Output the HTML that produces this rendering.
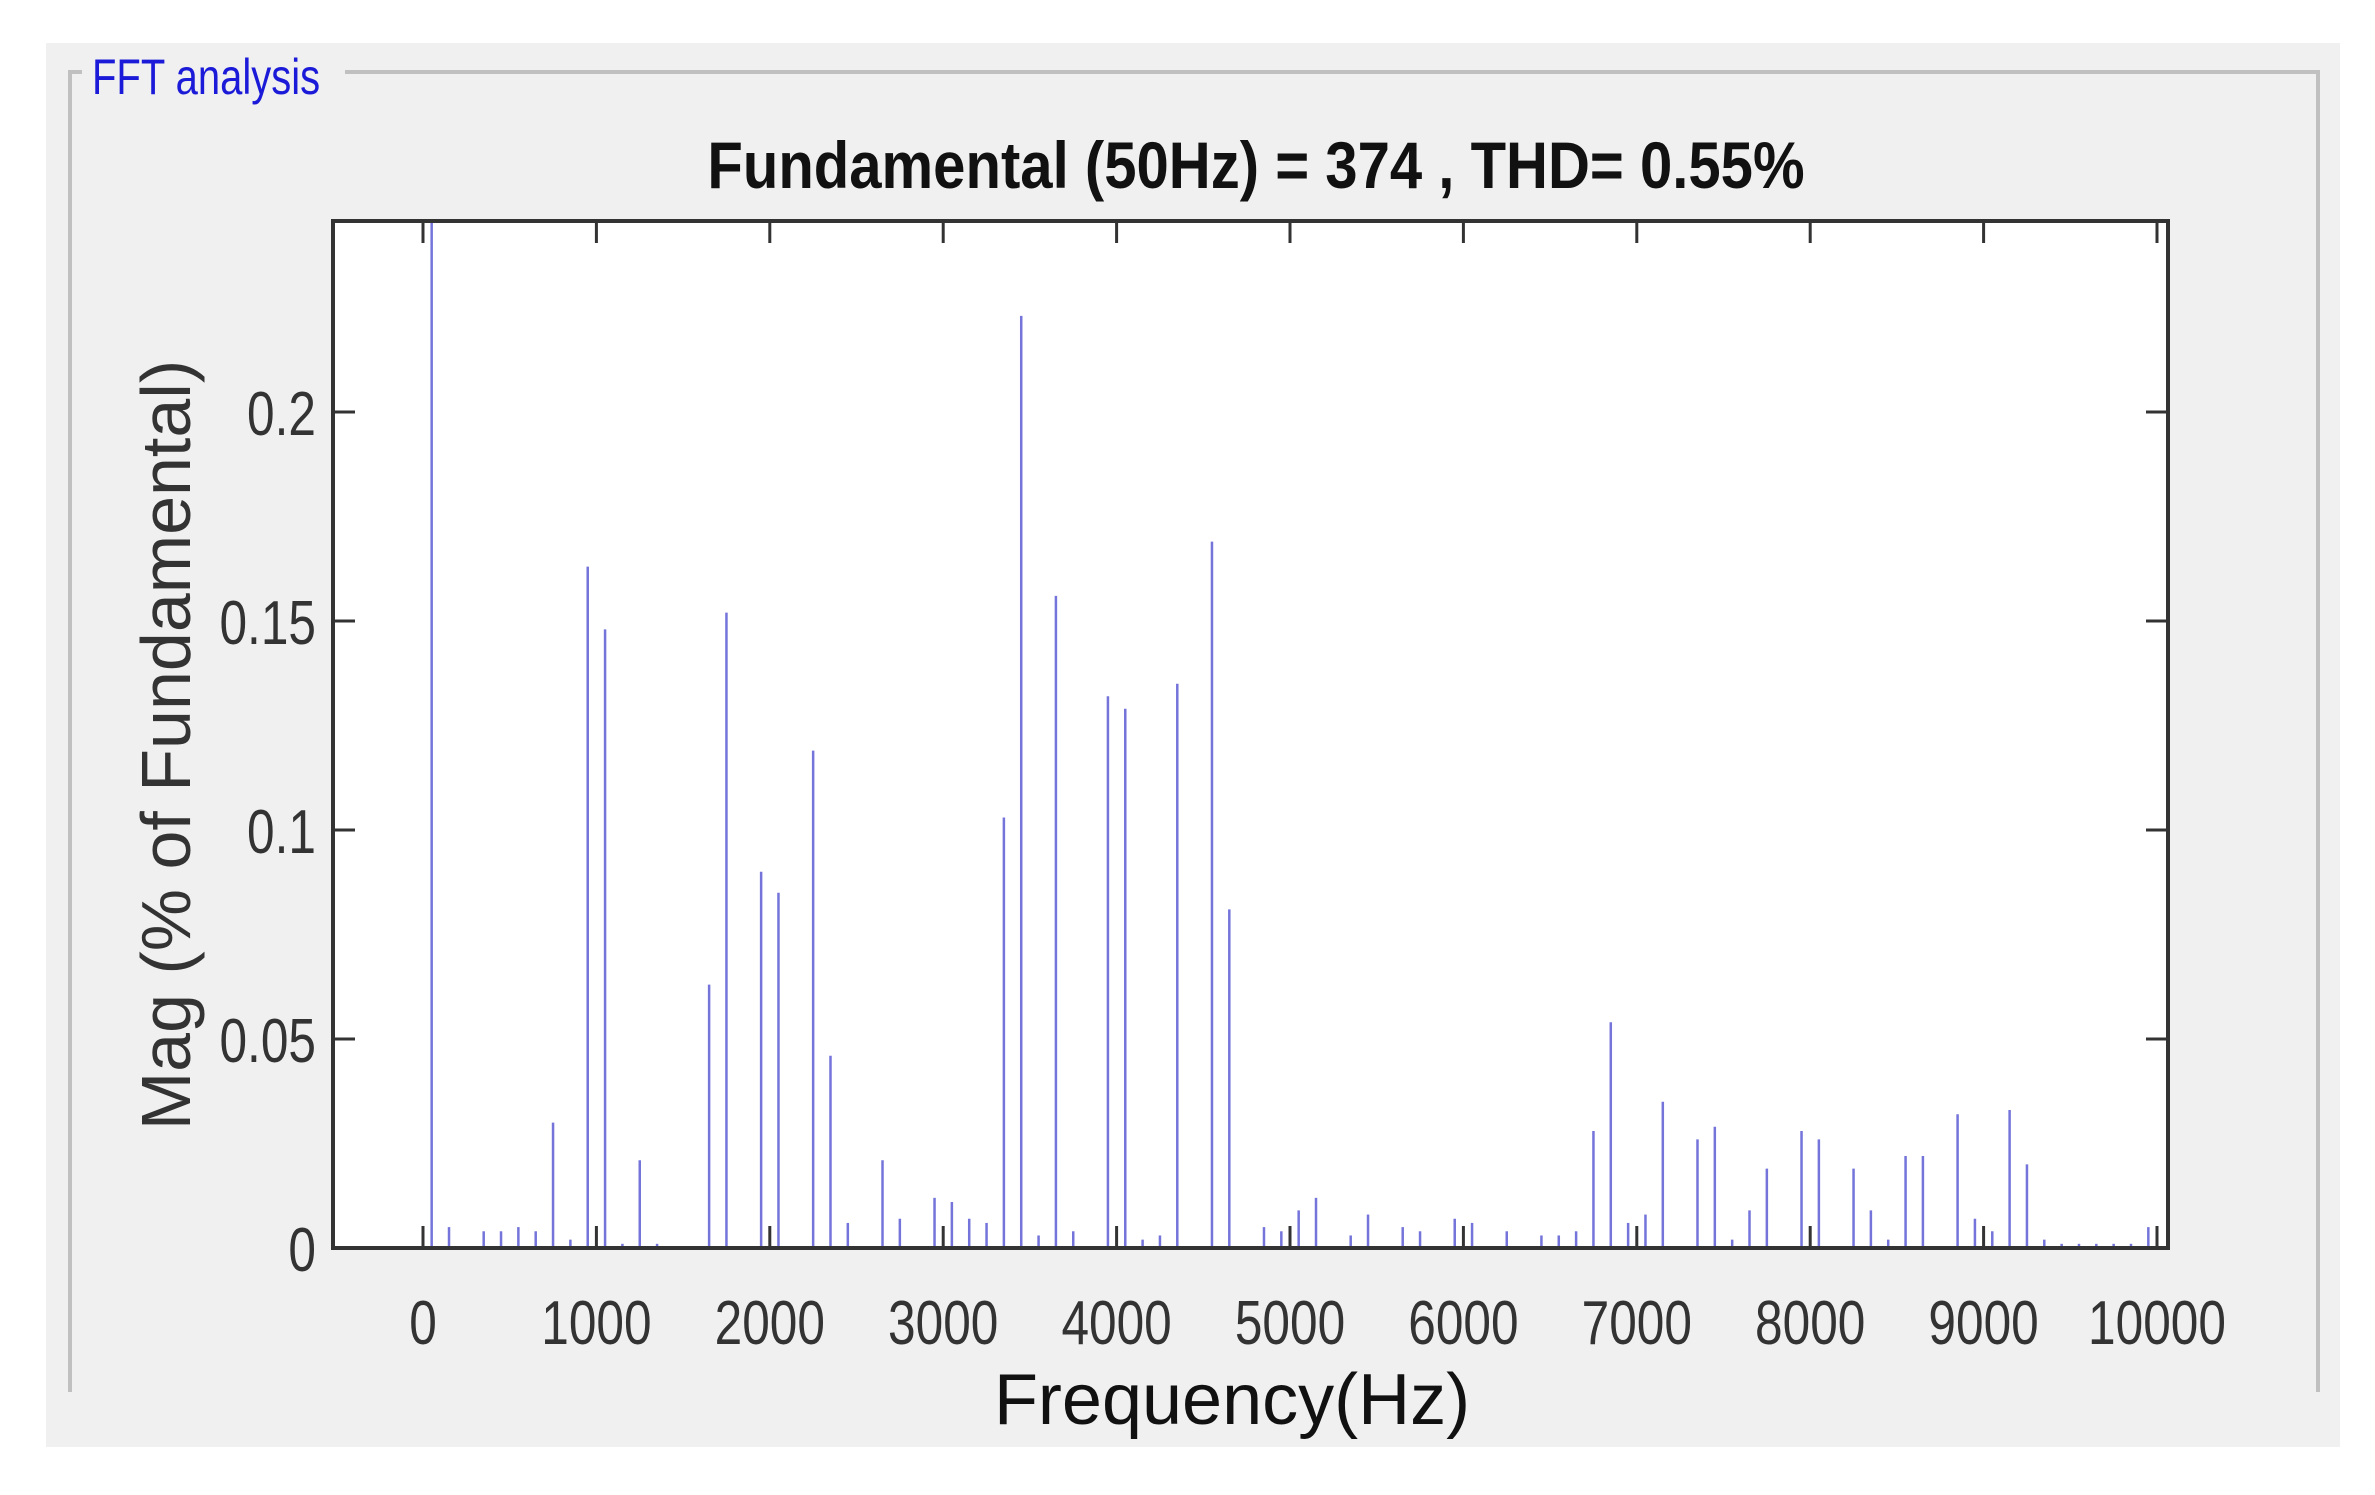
<!DOCTYPE html>
<html><head><meta charset="utf-8"><style>
html,body{margin:0;padding:0;background:#fff;width:2375px;height:1495px;overflow:hidden}
svg{display:block}
text{font-family:"Liberation Sans",sans-serif}
</style></head><body>
<svg id="chart" width="2375" height="1495" viewBox="0 0 2375 1495" xmlns="http://www.w3.org/2000/svg">
<rect x="46" y="43" width="2294" height="1404" fill="#f0f0f0"/>
<path d="M70 1392 V72 H82 M345 72 H2318 V1392" fill="none" stroke="#c0c0c0" stroke-width="4"/>
<text x="92" y="94" font-size="50" fill="#1a1ad8" transform="translate(92 0) scale(0.8 1) translate(-92 0)">FFT analysis</text>
<text x="1256" y="188" font-size="66" font-weight="bold" text-anchor="middle" fill="#111" transform="translate(1256 0) scale(0.88 1) translate(-1256 0)">Fundamental (50Hz) = 374 , THD= 0.55%</text>
<rect x="333" y="221" width="1835" height="1027" fill="#fff"/>
<g id="stems"></g>
<g id="axes"></g>
<rect x="333" y="221" width="1835" height="1027" fill="none" stroke="#333" stroke-width="4"/>
<text x="1232" y="1424" font-size="72" text-anchor="middle" fill="#111">Frequency(Hz)</text>
<text x="0" y="0" font-size="70" text-anchor="middle" fill="#333" transform="translate(190 745) rotate(-90)">Mag (% of Fundamental)</text>
</svg>
<script>
const freqs = [50,150,350,450,550,650,750,850,950,1050,1150,1250,1350,1650,1750,1950,2050,2250,2350,2450,2650,2750,2950,3050,3150,3250,3350,3450,3550,3650,3750,3950,4050,4150,4250,4350,4550,4650,4850,4950,5050,5150,5350,5450,5650,5750,5950,6050,6250,6450,6550,6650,6750,6850,6950,7050,7150,7350,7450,7550,7650,7750,7950,8050,8250,8350,8450,8550,8650,8850,8950,9050,9150,9250,9350,9450,9550,9650,9750,9850,9950];
const mags = [1.0,0.005,0.004,0.004,0.005,0.004,0.030,0.002,0.163,0.148,0.001,0.021,0.001,0.063,0.152,0.090,0.085,0.119,0.046,0.006,0.021,0.007,0.012,0.011,0.007,0.006,0.103,0.223,0.003,0.156,0.004,0.132,0.129,0.002,0.003,0.135,0.169,0.081,0.005,0.004,0.009,0.012,0.003,0.008,0.005,0.004,0.007,0.006,0.004,0.003,0.003,0.004,0.028,0.054,0.006,0.008,0.035,0.026,0.029,0.002,0.009,0.019,0.028,0.026,0.019,0.009,0.002,0.022,0.022,0.032,0.007,0.004,0.033,0.020,0.002,0.001,0.001,0.001,0.001,0.001,0.005];
const xTicks = [0,1000,2000,3000,4000,5000,6000,7000,8000,9000,10000];
const yTicks = [0,0.05,0.1,0.15,0.2];
const yTickLabels = ["0","0.05","0.1","0.15","0.2"];

const NS = "http://www.w3.org/2000/svg";
const L=333,R=2168,T=221,B=1248;
function xs(f){return 423 + f*(2157-423)/10000;}
function ys(v){return 1248 - v*(1248-412)/0.2;}
const stems=document.getElementById('stems');
freqs.forEach((f,i)=>{
  const ln=document.createElementNS(NS,'line');
  
  
  const x=xs(f);
  ln.setAttribute('x1',x);ln.setAttribute('x2',x);
  ln.setAttribute('y1',B);ln.setAttribute('y2',Math.max(T,ys(mags[i])));
  ln.setAttribute('stroke','#7474da');ln.setAttribute('stroke-width','2.5');
  stems.appendChild(ln);
});
const axes=document.getElementById('axes');
xTicks.forEach(t=>{
  const x=xs(t);
  [[B,B-22],[T,T+22]].forEach(([a,b])=>{
    const ln=document.createElementNS(NS,'line');
    
    
    ln.setAttribute('x1',x);ln.setAttribute('x2',x);ln.setAttribute('y1',a);ln.setAttribute('y2',b);
    ln.setAttribute('stroke','#333');ln.setAttribute('stroke-width','3');
    axes.appendChild(ln);
  });
  const tx=document.createElementNS(NS,'text');
  
  
  tx.setAttribute('x',x);tx.setAttribute('y',1344);
  tx.setAttribute('font-size','62');tx.setAttribute('text-anchor','middle');tx.setAttribute('fill','#333');
  tx.setAttribute('transform',`translate(${x} 0) scale(0.8 1) translate(${-x} 0)`);
  tx.textContent=String(t);
  axes.appendChild(tx);
});
yTicks.forEach((t,i)=>{
  const y=ys(t);
  [[L,L+22],[R,R-22]].forEach(([a,b])=>{
    const ln=document.createElementNS(NS,'line');
    
    
    ln.setAttribute('x1',a);ln.setAttribute('x2',b);ln.setAttribute('y1',y);ln.setAttribute('y2',y);
    ln.setAttribute('stroke','#333');ln.setAttribute('stroke-width','3');
    axes.appendChild(ln);
  });
  const tx=document.createElementNS(NS,'text');
  
  
  tx.setAttribute('x',316);tx.setAttribute('y',y+23);
  tx.setAttribute('font-size','62');tx.setAttribute('text-anchor','end');tx.setAttribute('fill','#333');
  tx.setAttribute('transform',`translate(316 0) scale(0.8 1) translate(-316 0)`);
  tx.textContent=yTickLabels[i];
  axes.appendChild(tx);
});
</script>
</body></html>
